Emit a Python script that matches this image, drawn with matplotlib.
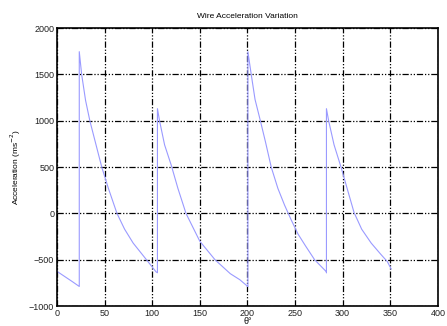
import numpy as np
import matplotlib.pyplot as plt

plt.rcParams['font.family'] = ['Liberation Sans', 'DejaVu Sans']

# crank angle (deg) and wire acceleration
theta = [0, 8, 16, 23.4,
         23.4, 25.9, 30, 34.5, 40, 47, 54, 63, 71, 80, 94, 104,
         105.5, 105.5, 107.7, 113, 120, 127, 135.5, 150, 166, 182, 192, 200,
         200.5, 200.5, 204, 208, 213.6, 219, 225, 232, 239, 246, 253, 261, 270.6, 283,
         283, 283, 285.3, 291, 298.3, 305, 312, 320, 330, 340, 347, 351]
accel = [-625, -680, -735, -788,
         1745, 1500, 1220, 1000, 780, 500, 270, 0, -170, -320, -500, -630,
         -640, 1130, 1000, 740, 520, 270, 0, -300, -500, -650, -715, -785,
         -790, 1745, 1500, 1230, 1000, 770, 500, 270, 90, -70, -220, -350, -500, -630,
         -640, 1130, 1000, 740, 500, 260, 10, -170, -320, -440, -520, -600]

x_ticks = [0, 50, 100, 150, 200, 250, 300, 350, 400]
y_ticks = [-1000, -500, 0, 500, 1000, 1500, 2000]

fig = plt.figure(figsize=(4.47, 3.26), dpi=100)
ax = fig.add_axes([0.1275, 0.061, 0.852, 0.853])

ax.plot(theta, accel, color='#9a9aff', lw=0.8)

ax.set_xlim(0, 400)
ax.set_ylim(-1000, 2000)
ax.set_xticks(x_ticks)
ax.set_yticks(y_ticks)
ax.set_yticklabels([str(v).replace('-', '\u2212') for v in y_ticks])
ax.tick_params(labelsize=6.5, length=0, pad=2, labelcolor='#222222')
ax.grid(True, color='black', lw=0.9, linestyle=(0, (5, 1.5, 1, 1.5, 1, 1.5)))
for s in ax.spines.values():
    s.set_linewidth(1.2)

ax.set_title('Wire Acceleration Variation', fontsize=6, pad=7)
ax.set_xlabel('\u03b8\u00b0', fontsize=6.5, labelpad=-1)
ax.set_ylabel('Acceleration (ms$^{-2}$)', fontsize=6, labelpad=4)

fig.savefig('out.png', dpi=100)
